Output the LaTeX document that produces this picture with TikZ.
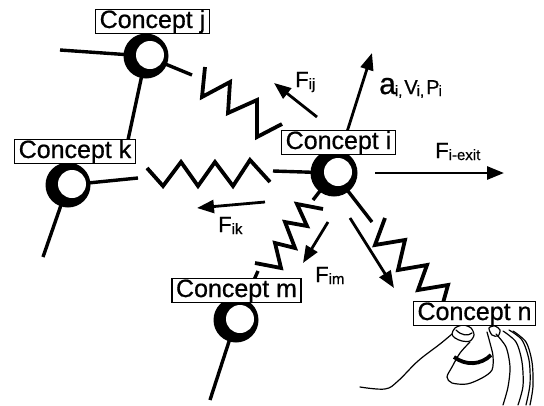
\documentclass[tikz,border=0pt]{standalone}
\usepackage{fontspec}
\setmainfont{Liberation Sans}[FakeBold=0.7]
\usetikzlibrary{arrows.meta,backgrounds}

\newcommand{\subtxt}[1]{\raisebox{-2pt}{\fontsize{15}{15}\selectfont #1}}

\begin{document}
\begin{tikzpicture}
  [x=1pt,y=-1pt,
   concept/.style={draw,fill=white,line width=1.4pt,inner xsep=4pt,inner ysep=0.5pt,
     text height=18pt,text depth=5pt,font=\fontsize{25}{25}\selectfont},
   ball/.style={circle,fill=black,inner sep=0pt,minimum size=45pt,
     path picture={\fill[white] ([xshift=4pt,yshift=1pt]path picture bounding box.center) circle (14pt);}},
   lbl/.style={anchor=base west,inner sep=0pt,font=\fontsize{22}{22}\selectfont}]
 \tikzset{stub/.style = {line width=3.4pt},
          spring/.style = {line width=3.8pt,miter limit=6},
          force/.style = {line width=2.8pt,-{Triangle[length=17pt,width=13pt]}},
          hand/.style = {line width=1.2pt,line cap=round,line join=round}}
 \useasboundingbox (0,0) rectangle (544,405);

  % the particles
  \node[ball] (ballj) at (146,56)  {};
  \node[ball] (ballk) at (68,185)  {};
  \node[ball,minimum size=47pt] (balli) at (334,173) {};
  \node[ball] (ballm) at (236,320) {};

  % concept tags
  \node[concept] (conj) at (152.5,21.5) {Concept j};
  \node[concept] (conk) at (75,151.5)   {Concept k};
  \node[concept] (coni) at (338.5,142.5) {Concept i};
  \node[concept] (conm) at (236.5,290.5) {Concept m};
  \node[concept] (conn) at (474.5,313.5) {Concept n};

  % loose ends
  \coordinate (jw)  at (60,50);
  \coordinate (jk)  at (128,140);
  \coordinate (js)  at (192,75);
  \coordinate (ke)  at (138,178);
  \coordinate (ks)  at (43,257);
  \coordinate (iw)  at (273,171);
  \coordinate (isw) at (313,200);
  \coordinate (ise) at (372,222);
  \coordinate (ms)  at (210,400);
  \coordinate (mn)  at (258,271);

  % spring ends
  \coordinate (sj) at (205,67);
  \coordinate (sk) at (147,168);
  \coordinate (sm) at (323,209);
  \coordinate (sn) at (385,218);

  % force arrows
  \coordinate (aij) at (317,117);  \coordinate (bij) at (274,83);
  \coordinate (aik) at (265,202);  \coordinate (bik) at (197,208);
  \coordinate (aim) at (328,222);  \coordinate (bim) at (303,263);
  \coordinate (ain) at (350,218);  \coordinate (bin) at (394,288);
  \coordinate (aex) at (375,173);  \coordinate (bex) at (504,173);
  \coordinate (bav) at (372,53);

  \node[lbl] (fij) at (295,87) {F\subtxt{ij}};
  \node[lbl] (fik) at (218,232) {F\subtxt{ik}};
  \node[lbl] (fim) at (315,282) {F\subtxt{im}};
  \node[lbl] (fex) at (435,158) {F\subtxt{i-exit}};
  \node[lbl] (avp) at (379,94) {{\fontsize{30}{30}\selectfont a}\subtxt{\kern-1pt i,}\kern2pt{\fontsize{20}{20}\selectfont V}\subtxt{\kern-1pt i,}\kern2pt{\fontsize{20}{20}\selectfont P}\subtxt{\kern-1pt i}};

  \begin{pgfonlayer}{background}
  \foreach \from/\to in {ballj/jw,ballj/jk,ballj/js,ballk/ke,ballk/ks,balli/iw,balli/isw,balli/ise,ballm/ms,ballm/mn}
    \draw[stub] (\from.center) -- (\to);

  \draw[spring] (sj) -- ++(-3,30) -- ++(28,-15) -- ++(-2,31) -- ++(29,-13) -- ++(0,37) -- ++(25,-13);
  \draw[spring] (sk) -- ++(16,18) -- ++(18,-24) -- ++(17,24) -- ++(17,-24) -- ++(18,24) -- ++(17,-26) -- ++(20,22);
  \draw[spring] (sm) -- ++(-26,-5) -- ++(10,22) -- ++(-22,-4) -- ++(10,26) -- ++(-20,-5) -- ++(6,25) -- ++(-26,-5);
  \draw[spring] (sn) -- ++(-10,27) -- ++(30,-5) -- ++(-7,30) -- ++(29,-5) -- ++(-9,25) -- ++(30,-5) -- ++(-5,18);

  \foreach \from/\to in {aij/bij,aik/bik,aim/bim,ain/bin,aex/bex,balli.center/bav}
    \draw[force] (\from) -- (\to);

  % hand holding concept n
  \draw[hand] plot[smooth,tension=0.6] coordinates {(360,387) (385,389) (398,381) (418,361) (440,344) (452,334)};
  \draw[hand,fill=white] plot[smooth cycle] coordinates {(452,334) (455,328) (463,325) (471,328) (474,335) (470,341) (462,341) (455,338)};
  \draw[hand] (456,330) .. controls (462,336) and (468,336) .. (472,333);
  \draw[hand] plot[smooth] coordinates {(470,342) (460,353) (452,367) (447,377) (452,383) (467,384) (482,378) (492,370) (493,356) (490,343) (487,332)};
  \draw[line width=3.8pt] (454,357) .. controls (466,366) and (481,365) .. (491,355);
  \draw[hand] plot[smooth cycle] coordinates {(489,328) (495,326) (500,330) (498,336) (492,335)};
  \draw[hand] plot[smooth] coordinates {(496,334) (506,347) (510,367) (508,387) (503,405)};
  \draw[hand] plot[smooth] coordinates {(503,331) (516,342) (522,362) (523,386) (518,405)};
  \draw[hand] plot[smooth] coordinates {(509,330) (522,340) (529,360) (530,384) (526,405)};
  \draw[hand] plot[smooth] coordinates {(513,331) (526,342) (532,362) (533,386) (530,405)};
  \end{pgfonlayer}

\end{tikzpicture}
\end{document}
